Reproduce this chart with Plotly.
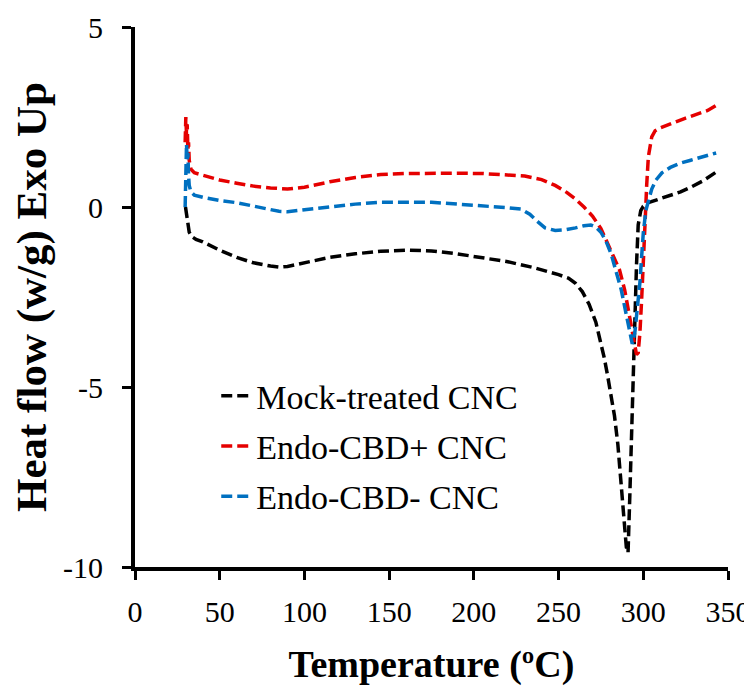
import plotly.graph_objects as go

# Mock-treated CNC
mock_T = [29.8, 30.3, 31, 32, 33.5, 36, 40, 50, 60, 70, 80, 85, 90, 100, 115, 130, 145, 160, 175, 190,
          205, 220, 235, 245, 250, 256, 260, 264, 268, 272, 275, 277, 279, 281, 283, 285, 287, 288.5,
          290, 291, 292, 292.8, 293.5, 294.2, 295, 296, 297, 298.5, 300, 303, 308, 315, 322, 328, 335, 343]
mock_V = [0, -0.2, -0.5, -0.7, -0.82, -0.9, -0.97, -1.2, -1.4, -1.55, -1.64, -1.67, -1.65, -1.55, -1.4,
          -1.3, -1.23, -1.2, -1.22, -1.3, -1.4, -1.52, -1.68, -1.8, -1.88, -1.98, -2.12, -2.35, -2.7, -3.2,
          -3.75, -4.2, -4.7, -5.2, -5.8, -6.6, -7.6, -8.6, -9.45, -9.6, -8.1, -6.8, -5.5, -4.2, -2.9, -1.6,
          -0.5, -0.1, 0.02, 0.12, 0.2, 0.3, 0.42, 0.55, 0.72, 0.97]

# Endo-CBD+ CNC
plus_T = [29.6, 30, 30.4, 30.8, 31.2, 31.6, 32, 33, 35, 40, 45, 50, 60, 70, 80, 90, 100, 115, 130, 145,
          160, 175, 190, 205, 220, 230, 240, 248, 255, 260, 265, 270, 275, 279, 283, 286, 289, 292,
          294.5, 296, 297, 298, 299, 300, 301, 302, 303, 305, 307, 310, 315, 320, 325, 332, 338, 343]
plus_V = [1.8, 2.5, 2.0, 2.3, 1.6, 1.8, 1.3, 1.05, 0.95, 0.88, 0.82, 0.75, 0.66, 0.58, 0.53, 0.5, 0.55,
          0.7, 0.82, 0.9, 0.93, 0.94, 0.94, 0.93, 0.9, 0.86, 0.76, 0.6, 0.4, 0.22, 0.0, -0.25, -0.6,
          -1.0, -1.4, -1.75, -2.3, -3.05, -3.7, -4.1, -4.05, -3.5, -2.6, -1.7, -0.5, 0.6, 1.4, 1.95,
          2.12, 2.2, 2.3, 2.38, 2.47, 2.58, 2.68, 2.82]

# Endo-CBD- CNC
minus_T = [29.6, 30, 30.4, 30.8, 31.2, 31.6, 32, 33, 35, 40, 45, 50, 60, 70, 80, 85, 90, 100, 115, 130,
           145, 160, 175, 190, 205, 220, 228, 233, 238, 242, 248, 254, 260, 265, 269, 272, 275, 278,
           281, 284, 287, 290, 292, 293.5, 295, 296.5, 298, 299, 300, 301.5, 303, 305, 307.5, 311,
           316, 322, 328, 335, 343]
minus_V = [0, 1.2, 1.75, 1.3, 1.5, 0.9, 0.6, 0.42, 0.33, 0.27, 0.22, 0.18, 0.12, 0.03, -0.08, -0.12,
           -0.13, -0.08, 0.0, 0.08, 0.13, 0.14, 0.13, 0.08, 0.04, -0.02, -0.06, -0.2, -0.42, -0.58,
           -0.65, -0.63, -0.58, -0.52, -0.5, -0.56, -0.7, -0.95, -1.3, -1.8, -2.3, -3.0, -3.5, -3.8,
           -3.5, -2.9, -2.1, -1.4, -0.72, -0.1, 0.2, 0.5, 0.75, 0.95, 1.1, 1.22, 1.3, 1.4, 1.5]

series_names = ["Mock-treated CNC", "Endo-CBD+ CNC", "Endo-CBD- CNC"]
series_colors = ["#000000", "#E50000", "#0070C0"]
x_ticks = [0, 50, 100, 150, 200, 250, 300, 350]
y_ticks = [-10, -5, 0, 5]
y_tick_labels = ["-10", "-5", "0", "5"]

FONT = "Liberation Serif"
fig = go.Figure()
for name, color, xs, ys in zip(series_names, series_colors,
                               [mock_T, plus_T, minus_T], [mock_V, plus_V, minus_V]):
    fig.add_trace(go.Scatter(x=xs, y=ys, mode="lines", name=name, legendgroup=name,
                             line=dict(color=color, width=3.5, dash="11px,5px")))

fig.update_layout(
    width=744, height=678,
    paper_bgcolor="white", plot_bgcolor="white",
    margin=dict(l=127, r=24, t=19, b=119),
    font=dict(family=FONT, color="black"),
    showlegend=True,
    legend=dict(x=0.137, y=0.37, xanchor="left", yanchor="top",
                font=dict(family=FONT, size=34, color="black"),
                bgcolor="rgba(0,0,0,0)", tracegroupgap=3, itemwidth=30),
    xaxis=dict(range=[0, 350], tickvals=x_ticks, showgrid=False, zeroline=False,
               showline=True, linecolor="black", linewidth=4, automargin=False,
               ticks="outside", ticklen=9, tickwidth=3, tickcolor="black",
               tickfont=dict(family=FONT, size=30, color="black"), ticklabelstandoff=6,
               title=dict(text="<b>Temperature (ºC)</b>", font=dict(family=FONT, size=38, color="black"),
                          standoff=24)),
    yaxis=dict(range=[-10, 5], tickvals=y_ticks, ticktext=y_tick_labels, showgrid=False, zeroline=False,
               showline=True, linecolor="black", linewidth=4, automargin=False,
               ticks="outside", ticklen=9, tickwidth=3, tickcolor="black",
               tickfont=dict(family=FONT, size=30, color="black"), ticklabelstandoff=13,
               title=dict(text="<b>Heat flow (w/g) Exo Up</b>", font=dict(family=FONT, size=43, color="black"),
                          standoff=8)),
)

fig.write_html("out.html")
